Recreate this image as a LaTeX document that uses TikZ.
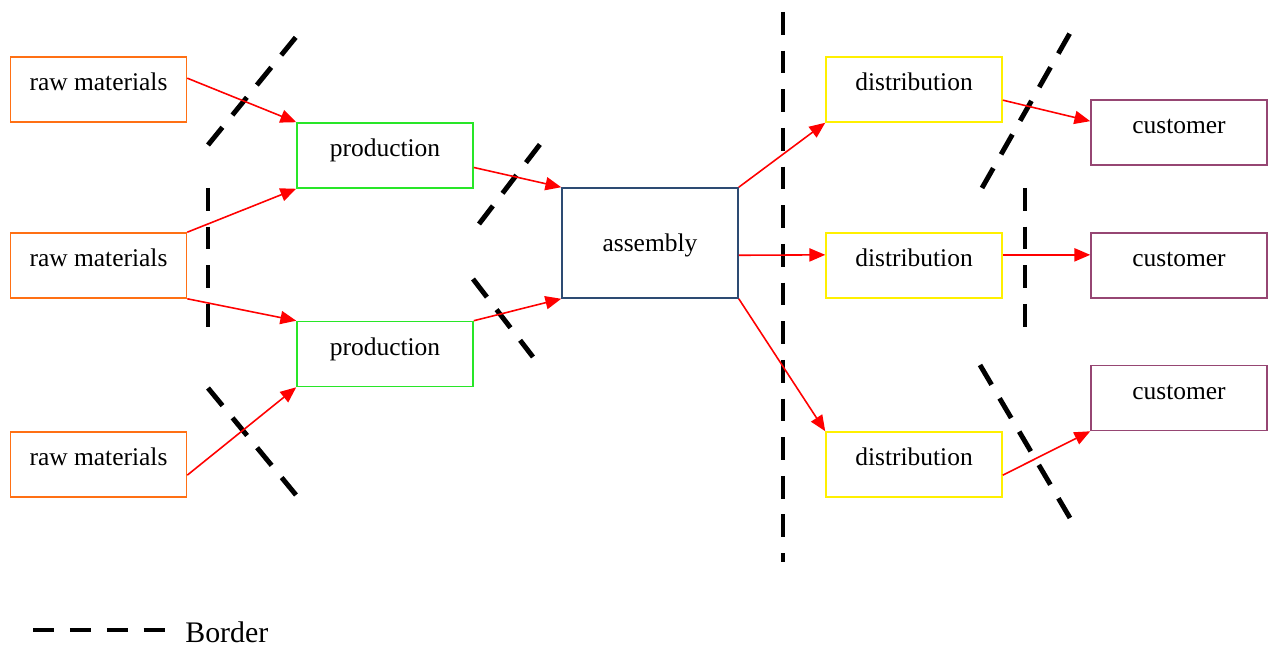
\documentclass[tikz,border=0pt]{standalone}
\usepackage{fontspec}
\setmainfont{Liberation Serif}
\usetikzlibrary{arrows.meta,calc}
\definecolor{cOrange}{RGB}{255,112,20}
\definecolor{cGreen}{RGB}{40,230,40}
\definecolor{cBlue}{RGB}{45,75,115}
\definecolor{cYellow}{RGB}{255,240,0}
\definecolor{cPurple}{RGB}{150,70,115}
\tikzset{
  box/.style={draw, line width=0.9pt, inner sep=0pt, minimum width=3.52cm, minimum height=1.3cm,
    text height=0.68cm, text depth=0.62cm, font=\fontsize{14.5}{17}\selectfont},
  bigbox/.style={box, minimum height=2.2cm, text height=1.28cm, text depth=0.92cm},
  flow/.style={red, line width=0.9pt, -{Triangle[length=9pt,width=7.5pt]}},
  border/.style={black, line width=2.8pt, dash pattern=on 13pt off 9pt},
}
\begin{document}
\begin{tikzpicture}[x=0.02cm,y=-0.02cm]
\useasboundingbox (0,0) rectangle (1275,648);
% nodes
\node[box, draw=cOrange] (rm1) at (98.5,89.5) {raw materials};
\node[box, draw=cOrange] (rm2) at (98.5,265.5) {raw materials};
\node[box, draw=cOrange] (rm3) at (98.5,464.5) {raw materials};
\node[box, draw=cGreen] (pr1) at (385,155.5) {production};
\node[box, draw=cGreen] (pr2) at (385,354) {production};
\node[bigbox, draw=cBlue] (asm) at (650,243) {assembly};
\node[box, draw=cYellow] (di1) at (914,89.5) {distribution};
\node[box, draw=cYellow] (di2) at (914,265.5) {distribution};
\node[box, draw=cYellow] (di3) at (914,464.5) {distribution};
\node[box, draw=cPurple] (cu1) at (1179,132.5) {customer};
\node[box, draw=cPurple] (cu2) at (1179,265.5) {customer};
\node[box, draw=cPurple] (cu3) at (1179,398) {customer};
% borders
\draw[border] (208,145) -- (296,37);
\draw[border] (208,188) -- (208,327);
\draw[border] (208,388) -- (296,495);
\draw[border] (479,224) -- (541,143);
\draw[border] (473,279) -- (533,357);
\draw[border] (783,12) -- (783,562);
\draw[border] (982,188) -- (1070,33);
\draw[border] (1025,188) -- (1025,327);
\draw[border] (980,365) -- (1070,518);
% flows
\draw[flow] ($(rm1.north east)!0.33!(rm1.south east)$) -- (pr1.north west);
\draw[flow] (rm2.north east) -- (pr1.south west);
\draw[flow] (rm2.south east) -- (pr2.north west);
\draw[flow] ($(rm3.north east)!0.66!(rm3.south east)$) -- (pr2.south west);
\draw[flow] ($(pr1.north east)!0.68!(pr1.south east)$) -- (asm.north west);
\draw[flow] (pr2.north east) -- (asm.south west);
\draw[flow] (asm.north east) -- (di1.south west);
\draw[flow] ($(asm.north east)!0.61!(asm.south east)$) -- ($(di2.north west)!0.34!(di2.south west)$);
\draw[flow] (asm.south east) -- (di3.north west);
\draw[flow] ($(di1.north east)!0.66!(di1.south east)$) -- ($(cu1.north west)!0.33!(cu1.south west)$);
\draw[flow] ($(di2.north east)!0.34!(di2.south east)$) -- ($(cu2.north west)!0.34!(cu2.south west)$);
\draw[flow] ($(di3.north east)!0.66!(di3.south east)$) -- (cu3.south west);
% legend
\coordinate (lgA) at (33,630);
\coordinate (lgB) at (165,630);
\draw[border, dash pattern=on 12pt off 9pt] (lgA) -- (lgB);
\node[anchor=base west, inner sep=0pt, font=\fontsize{17}{20}\selectfont] (lgT) at (185,642) {Border};
\end{tikzpicture}
\end{document}
